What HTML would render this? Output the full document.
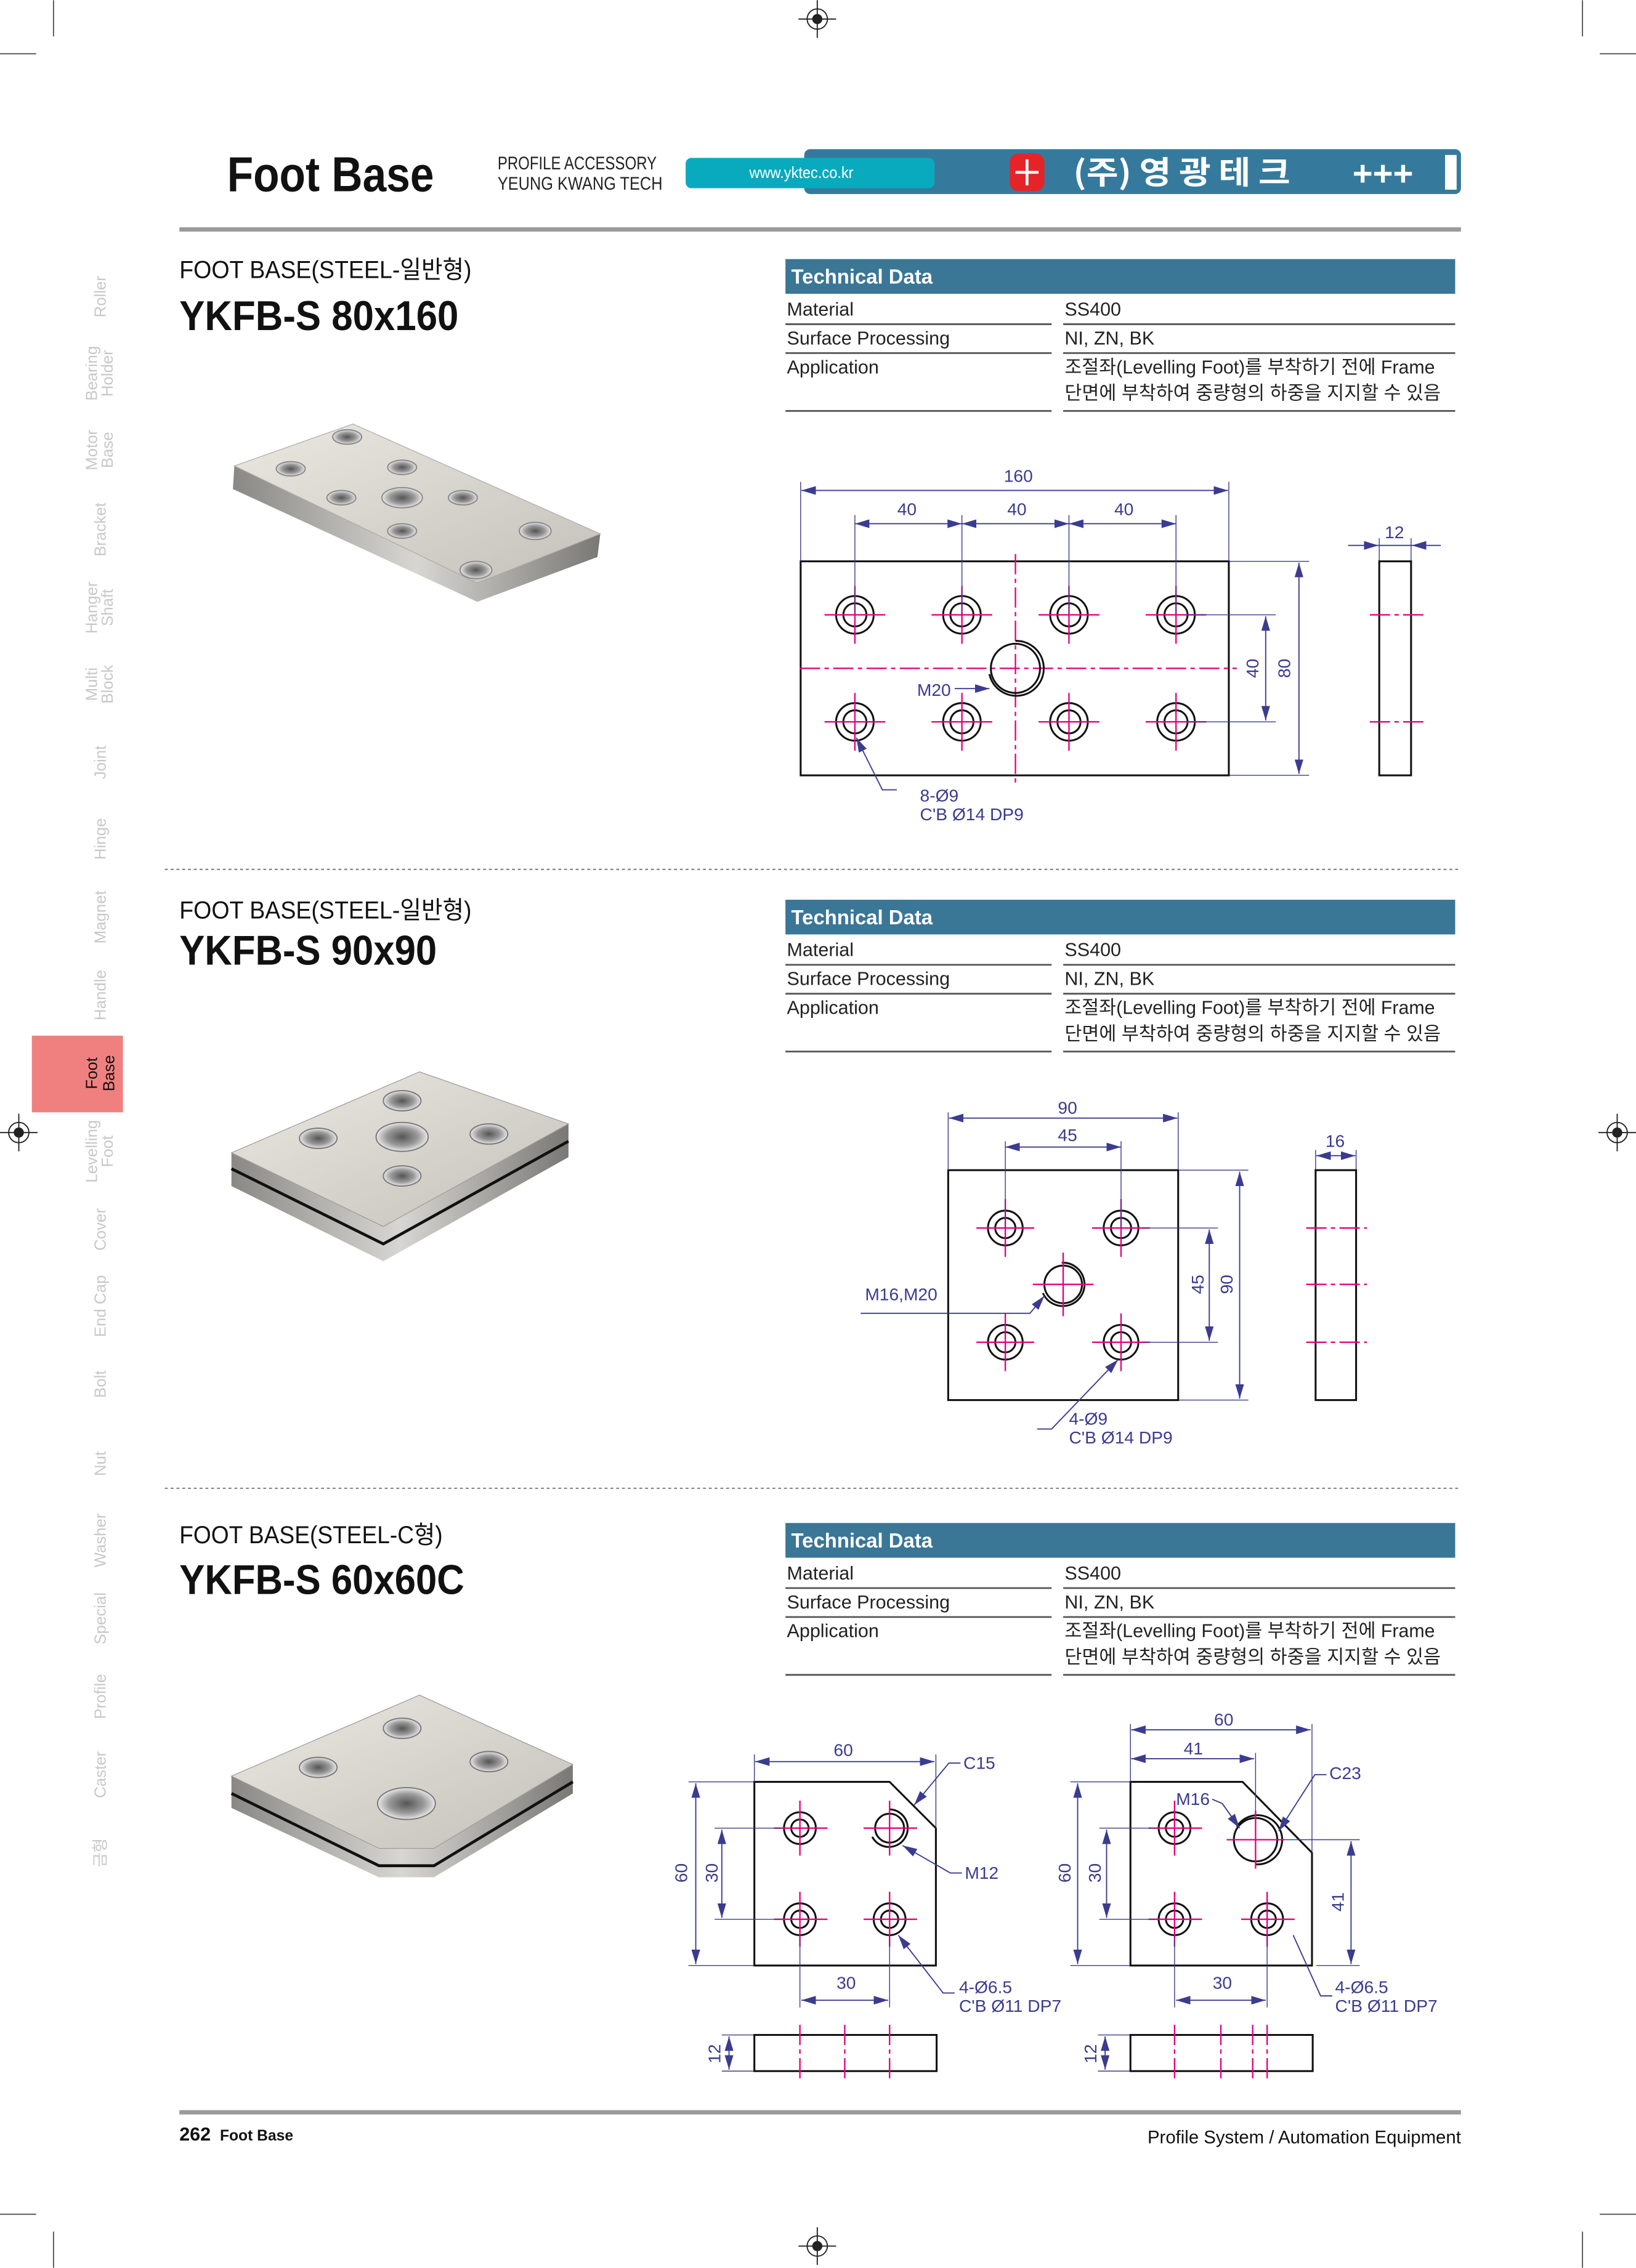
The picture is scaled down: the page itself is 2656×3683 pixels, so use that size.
<!DOCTYPE html>
<html><head><meta charset="utf-8"><style>
html,body{margin:0;padding:0;background:#fff;}
svg{display:block;}
.d{font-family:"Liberation Sans","DejaVu Sans",sans-serif;font-size:12px;fill:#3b3b8f;}
.t{font-family:"Liberation Sans","Noto Sans CJK KR",sans-serif;font-size:13px;fill:#222;}
.side{font-family:"Liberation Sans","Noto Sans CJK KR",sans-serif;font-size:11px;fill:#c8c8c8;}
.dim{stroke:#3b3b8f;stroke-width:0.8;fill:none;}
.ext{stroke:#3b3b8f;stroke-width:0.6;fill:none;}
.cl{stroke:#e6007e;stroke-width:1;fill:none;stroke-dasharray:14 3 3 3;}
.c{stroke:#e6007e;stroke-width:1;fill:none;}
.ob{stroke:#111;stroke-width:1.3;fill:none;}
</style></head><body>
<svg width="2656" height="3683" viewBox="0 0 1131 1568" xmlns="http://www.w3.org/2000/svg">
<defs>
<marker id="a" viewBox="0 0 10 6" refX="10" refY="3" markerWidth="10" markerHeight="6" markerUnits="userSpaceOnUse" orient="auto-start-reverse"><path d="M0,0L10,3L0,6z" fill="#3b3b8f"/></marker>
<linearGradient id="g1" x1="0" y1="0" x2="1" y2="1"><stop offset="0" stop-color="#ebe7e1"/><stop offset="1" stop-color="#c4c0ba"/></linearGradient>
<linearGradient id="g2" x1="0" y1="0" x2="1" y2="0"><stop offset="0" stop-color="#8a8884"/><stop offset="0.5" stop-color="#d8d6d2"/><stop offset="1" stop-color="#7a7874"/></linearGradient>
<radialGradient id="h"><stop offset="0" stop-color="#555"/><stop offset="0.6" stop-color="#999"/><stop offset="1" stop-color="#e8e8e8"/></radialGradient>
</defs>

<g stroke="#555" stroke-width="0.8">
<line x1="37" y1="0" x2="37" y2="25"/><line x1="0" y1="37" x2="25" y2="37"/>
<line x1="1094" y1="0" x2="1094" y2="25"/><line x1="1106" y1="37" x2="1131" y2="37"/>
<line x1="37" y1="1543" x2="37" y2="1568"/><line x1="0" y1="1531" x2="25" y2="1531"/>
<line x1="1094" y1="1543" x2="1094" y2="1568"/><line x1="1106" y1="1531" x2="1131" y2="1531"/>
</g>
<g stroke="#222" stroke-width="0.8" fill="none">
<circle cx="565" cy="13" r="7"/><line x1="552" y1="13" x2="578" y2="13"/><line x1="565" y1="0" x2="565" y2="26"/>
<circle cx="565" cy="1553" r="7"/><line x1="552" y1="1553" x2="578" y2="1553"/><line x1="565" y1="1540" x2="565" y2="1566"/>
<circle cx="13" cy="783" r="7"/><line x1="0" y1="783" x2="26" y2="783"/><line x1="13" y1="770" x2="13" y2="796"/>
<circle cx="1118" cy="783" r="7"/><line x1="1105" y1="783" x2="1131" y2="783"/><line x1="1118" y1="770" x2="1118" y2="796"/>
</g>
<g fill="#222"><circle cx="565" cy="13" r="3.5"/><circle cx="565" cy="1553" r="3.5"/><circle cx="13" cy="783" r="3.5"/><circle cx="1118" cy="783" r="3.5"/></g>

<text x="157" y="132" font-family="Liberation Sans,sans-serif" font-weight="bold" font-size="34" textLength="143" lengthAdjust="spacingAndGlyphs" fill="#111">Foot Base</text>
<text x="344" y="117" font-family="Liberation Sans,sans-serif" font-size="12.5" textLength="110" lengthAdjust="spacingAndGlyphs" fill="#222">PROFILE ACCESSORY</text>
<text x="344" y="131" font-family="Liberation Sans,sans-serif" font-size="12.5" textLength="114" lengthAdjust="spacingAndGlyphs" fill="#222">YEUNG KWANG TECH</text>
<rect x="556" y="103" width="454" height="31" rx="4" fill="#357a9c"/>
<rect x="474" y="109" width="172" height="21" rx="4" fill="#0aaabe"/>
<text x="554" y="123" text-anchor="middle" font-family="Liberation Sans,sans-serif" font-size="11" fill="#fff" textLength="72" lengthAdjust="spacingAndGlyphs">www.yktec.co.kr</text>
<rect x="698" y="106" width="24" height="26" rx="6" fill="#e52428"/>
<path d="M710,110 L710,128 M702,119 L718,119" stroke="#fff" stroke-width="2"/>
<text x="742" y="127" font-family="Noto Sans CJK KR,sans-serif" font-weight="bold" font-size="22" fill="#fff" textLength="150" lengthAdjust="spacingAndGlyphs">(주) 영 광 테 크</text>
<text x="935" y="128" font-family="Liberation Sans,sans-serif" font-weight="bold" font-size="24" fill="#fff">+++</text>
<rect x="999" y="107" width="8" height="24" fill="#fff"/>
<rect x="124" y="157" width="886" height="3" fill="#9a9a9a"/>

<rect x="22" y="716" width="63" height="53" fill="#f08080"/>
<g class="side">
<text transform="translate(73,205) rotate(-90)" text-anchor="middle">Roller</text>
<text transform="translate(67,258) rotate(-90)" text-anchor="middle">Bearing</text><text transform="translate(78,258) rotate(-90)" text-anchor="middle">Holder</text>
<text transform="translate(67,311) rotate(-90)" text-anchor="middle">Motor</text><text transform="translate(78,311) rotate(-90)" text-anchor="middle">Base</text>
<text transform="translate(73,366) rotate(-90)" text-anchor="middle">Bracket</text>
<text transform="translate(67,420) rotate(-90)" text-anchor="middle">Hanger</text><text transform="translate(78,420) rotate(-90)" text-anchor="middle">Shaft</text>
<text transform="translate(67,473) rotate(-90)" text-anchor="middle">Multi</text><text transform="translate(78,473) rotate(-90)" text-anchor="middle">Block</text>
<text transform="translate(73,527) rotate(-90)" text-anchor="middle">Joint</text>
<text transform="translate(73,580) rotate(-90)" text-anchor="middle">Hinge</text>
<text transform="translate(73,634) rotate(-90)" text-anchor="middle">Magnet</text>
<text transform="translate(73,688) rotate(-90)" text-anchor="middle">Handle</text>
<text transform="translate(67,796) rotate(-90)" text-anchor="middle">Levelling</text><text transform="translate(78,796) rotate(-90)" text-anchor="middle">Foot</text>
<text transform="translate(73,850) rotate(-90)" text-anchor="middle">Cover</text>
<text transform="translate(73,903) rotate(-90)" text-anchor="middle">End Cap</text>
<text transform="translate(73,957) rotate(-90)" text-anchor="middle">Bolt</text>
<text transform="translate(73,1012) rotate(-90)" text-anchor="middle">Nut</text>
<text transform="translate(73,1065) rotate(-90)" text-anchor="middle">Washer</text>
<text transform="translate(73,1119) rotate(-90)" text-anchor="middle">Special</text>
<text transform="translate(73,1173) rotate(-90)" text-anchor="middle">Profile</text>
<text transform="translate(73,1227) rotate(-90)" text-anchor="middle">Caster</text>
<text transform="translate(73,1281) rotate(-90)" text-anchor="middle">금형</text>
</g>
<text transform="translate(67,742) rotate(-90)" text-anchor="middle" font-family="Liberation Sans,sans-serif" font-size="11" fill="#111">Foot</text>
<text transform="translate(79,742) rotate(-90)" text-anchor="middle" font-family="Liberation Sans,sans-serif" font-size="11" fill="#111">Base</text>

<line x1="114" y1="601" x2="1010" y2="601" stroke="#777" stroke-width="0.8" stroke-dasharray="2 2"/>
<line x1="114" y1="1029" x2="1010" y2="1029" stroke="#777" stroke-width="0.8" stroke-dasharray="2 2"/>

<g font-family="Liberation Sans,Noto Sans CJK KR,sans-serif" fill="#111">
<text x="124" y="192" font-size="17" textLength="202" lengthAdjust="spacingAndGlyphs">FOOT BASE(STEEL-일반형)</text>
<text x="124" y="228" font-size="29" font-weight="bold" textLength="193" lengthAdjust="spacingAndGlyphs">YKFB-S 80x160</text>
<text x="124" y="635" font-size="17" textLength="202" lengthAdjust="spacingAndGlyphs">FOOT BASE(STEEL-일반형)</text>
<text x="124" y="667" font-size="29" font-weight="bold" textLength="178" lengthAdjust="spacingAndGlyphs">YKFB-S 90x90</text>
<text x="124" y="1067" font-size="17" textLength="182" lengthAdjust="spacingAndGlyphs">FOOT BASE(STEEL-C형)</text>
<text x="124" y="1102" font-size="29" font-weight="bold" textLength="197" lengthAdjust="spacingAndGlyphs">YKFB-S 60x60C</text>
</g>

<g id="tt">
<rect x="543" y="179" width="463" height="24" fill="#3a7696"/>
<text x="547" y="196" font-family="Liberation Sans,sans-serif" font-weight="bold" font-size="14" fill="#fff">Technical Data</text>
<g class="t">
<text x="544" y="218">Material</text><text x="736" y="218">SS400</text>
<text x="544" y="238">Surface Processing</text><text x="736" y="238">NI, ZN, BK</text>
<text x="544" y="258">Application</text>
<text x="736" y="258" textLength="256" lengthAdjust="spacingAndGlyphs">조절좌(Levelling Foot)를 부착하기 전에 Frame</text>
<text x="736" y="276" textLength="260" lengthAdjust="spacingAndGlyphs">단면에 부착하여 중량형의 하중을 지지할 수 있음</text>
</g>
<g stroke="#555" stroke-width="1.2">
<line x1="543" y1="224" x2="727" y2="224"/><line x1="735" y1="224" x2="1006" y2="224"/>
<line x1="543" y1="244" x2="727" y2="244"/><line x1="735" y1="244" x2="1006" y2="244"/>
<line x1="543" y1="284" x2="727" y2="284"/><line x1="735" y1="284" x2="1006" y2="284"/>
</g>
</g>
<use href="#tt" y="443"/>
<use href="#tt" y="874"/>

<polygon points="162,322 330,403 415,369 413,385 330,416 161,338" fill="url(#g2)"/>
<polygon points="162,322 244,293 415,369 330,403" fill="url(#g1)" stroke="#aaa" stroke-width="0.5"/>
<g fill="url(#h)" stroke="#888" stroke-width="0.8">
<ellipse cx="201" cy="324" rx="10" ry="5"/><ellipse cx="240" cy="302" rx="10" ry="5"/>
<ellipse cx="236" cy="344" rx="10" ry="5"/><ellipse cx="278" cy="323" rx="10" ry="5"/>
<ellipse cx="278" cy="344" rx="14" ry="7"/><ellipse cx="320" cy="344" rx="10" ry="5"/>
<ellipse cx="278" cy="367" rx="10" ry="5"/><ellipse cx="370" cy="367" rx="11" ry="6"/>
<ellipse cx="329" cy="394" rx="11" ry="6"/>
</g>
<polygon points="160,797 265,848 393,777 393,800 265,872 160,820" fill="url(#g2)"/>
<polyline points="160,808 265,860 393,789" stroke="#111" stroke-width="2" fill="none"/>
<polygon points="160,797 290,741 393,777 265,848" fill="url(#g1)" stroke="#999" stroke-width="0.5"/>
<g fill="url(#h)" stroke="#777" stroke-width="0.8">
<ellipse cx="220" cy="787" rx="13" ry="7"/><ellipse cx="278" cy="761" rx="13" ry="7"/>
<ellipse cx="278" cy="786" rx="18" ry="10"/><ellipse cx="338" cy="784" rx="13" ry="7"/>
<ellipse cx="278" cy="813" rx="13" ry="7"/>
</g>
<polygon points="160,1228 262,1278 300,1278 396,1220 396,1240 300,1298 262,1298 160,1250" fill="url(#g2)"/>
<polyline points="160,1240 262,1290 300,1290 396,1232" stroke="#111" stroke-width="2" fill="none"/>
<polygon points="160,1228 290,1172 396,1220 300,1278 262,1278" fill="url(#g1)" stroke="#999" stroke-width="0.5"/>
<g fill="url(#h)" stroke="#777" stroke-width="0.8">
<ellipse cx="220" cy="1222" rx="13" ry="7"/><ellipse cx="278" cy="1195" rx="13" ry="7"/>
<ellipse cx="338" cy="1218" rx="13" ry="7"/><ellipse cx="281" cy="1247" rx="20" ry="11"/>
</g>

<!-- DRAWING 1 -->
<rect x="553.5" y="388" width="296" height="148" class="ob"/>
<line x1="553" y1="462" x2="855" y2="462" class="cl"/>
<line x1="702" y1="383" x2="702" y2="541" class="cl"/>
<g id="h1">
<circle cx="591" cy="425" r="13" class="ob"/><circle cx="591" cy="425" r="8" class="ob"/>
<line x1="570" y1="425" x2="612" y2="425" class="c"/><line x1="591" y1="405" x2="591" y2="445" class="c"/>
</g>
<use href="#h1" x="74"/><use href="#h1" x="148"/><use href="#h1" x="222"/>
<use href="#h1" y="74"/><use href="#h1" x="74" y="74"/><use href="#h1" x="148" y="74"/><use href="#h1" x="222" y="74"/>
<circle cx="702" cy="462" r="17" class="ob"/>
<path d="M702,443 A19,19 0 1 1 684,466" class="ob" stroke-width="0.9"/>
<g class="ext">
<line x1="553.5" y1="333" x2="553.5" y2="388"/><line x1="849.5" y1="333" x2="849.5" y2="388"/>
<line x1="591" y1="356" x2="591" y2="425"/><line x1="665" y1="356" x2="665" y2="425"/>
<line x1="739" y1="356" x2="739" y2="425"/><line x1="813" y1="356" x2="813" y2="425"/>
<line x1="850" y1="388" x2="905" y2="388"/><line x1="850" y1="536" x2="905" y2="536"/>
<line x1="820" y1="425" x2="882" y2="425"/><line x1="820" y1="499" x2="882" y2="499"/>
<line x1="953.5" y1="372" x2="953.5" y2="388"/><line x1="975.5" y1="372" x2="975.5" y2="388"/>
</g>
<g class="dim">
<line x1="554" y1="339" x2="849" y2="339" marker-start="url(#a)" marker-end="url(#a)"/>
<line x1="591" y1="362" x2="665" y2="362" marker-start="url(#a)" marker-end="url(#a)"/>
<line x1="665" y1="362" x2="739" y2="362" marker-start="url(#a)" marker-end="url(#a)"/>
<line x1="739" y1="362" x2="813" y2="362" marker-start="url(#a)" marker-end="url(#a)"/>
<line x1="898" y1="389" x2="898" y2="535" marker-start="url(#a)" marker-end="url(#a)"/>
<line x1="875" y1="426" x2="875" y2="498" marker-start="url(#a)" marker-end="url(#a)"/>
<line x1="932" y1="377" x2="953" y2="377" marker-end="url(#a)"/>
<line x1="996" y1="377" x2="976" y2="377" marker-end="url(#a)"/>
<line x1="953" y1="377" x2="976" y2="377"/>
<line x1="660" y1="476" x2="684" y2="476" marker-end="url(#a)"/>
<polyline points="620,546 610,546 592,510" marker-end="url(#a)"/>
</g>
<rect x="953.5" y="388" width="22" height="148" class="ob"/>
<line x1="947" y1="425" x2="984" y2="425" class="cl" stroke-dasharray="12 3 3 3"/>
<line x1="947" y1="499" x2="984" y2="499" class="cl" stroke-dasharray="12 3 3 3"/>
<g class="d" text-anchor="middle">
<text x="704" y="333">160</text><text x="627" y="356">40</text><text x="703" y="356">40</text><text x="777" y="356">40</text>
<text x="964" y="372">12</text>
<text transform="translate(870,462) rotate(-90)">40</text>
<text transform="translate(892,462) rotate(-90)">80</text>
</g>
<g class="d"><text x="634" y="481">M20</text><text x="636" y="554">8-Ø9</text><text x="636" y="567">C'B Ø14 DP9</text></g>

<!-- DRAWING 2 -->
<rect x="655.5" y="809" width="159" height="159" class="ob"/>
<g id="h2">
<circle cx="695" cy="849" r="12" class="ob"/><circle cx="695" cy="849" r="7" class="ob"/>
<line x1="675" y1="849" x2="715" y2="849" class="c"/><line x1="695" y1="829" x2="695" y2="869" class="c"/>
</g>
<use href="#h2" x="80"/><use href="#h2" y="79"/><use href="#h2" x="80" y="79"/>
<circle cx="735" cy="888" r="13" class="ob"/>
<path d="M734,873 A15,15 0 1 1 721,894" class="ob" stroke-width="0.9"/>
<line x1="714" y1="888" x2="756" y2="888" class="c"/><line x1="735" y1="866" x2="735" y2="910" class="c"/>
<g class="ext">
<line x1="655.5" y1="769" x2="655.5" y2="809"/><line x1="814.5" y1="769" x2="814.5" y2="809"/>
<line x1="695" y1="789" x2="695" y2="849"/><line x1="775" y1="789" x2="775" y2="849"/>
<line x1="815" y1="809" x2="863" y2="809"/><line x1="815" y1="968" x2="863" y2="968"/>
<line x1="790" y1="849" x2="842" y2="849"/><line x1="790" y1="928" x2="842" y2="928"/>
<line x1="909.5" y1="795" x2="909.5" y2="809"/><line x1="937.5" y1="795" x2="937.5" y2="809"/>
</g>
<g class="dim">
<line x1="656" y1="773" x2="814" y2="773" marker-start="url(#a)" marker-end="url(#a)"/>
<line x1="695" y1="793" x2="775" y2="793" marker-start="url(#a)" marker-end="url(#a)"/>
<line x1="857" y1="810" x2="857" y2="967" marker-start="url(#a)" marker-end="url(#a)"/>
<line x1="836" y1="850" x2="836" y2="927" marker-start="url(#a)" marker-end="url(#a)"/>
<line x1="910" y1="799" x2="937" y2="799" marker-start="url(#a)" marker-end="url(#a)"/>
<polyline points="595,908 712,908 722,896" marker-end="url(#a)"/>
<polyline points="717,988 727,988 773,940" marker-end="url(#a)"/>
</g>
<rect x="909.5" y="809" width="28" height="159" class="ob"/>
<line x1="903" y1="849" x2="945" y2="849" class="cl" stroke-dasharray="12 3 3 3"/>
<line x1="903" y1="888" x2="945" y2="888" class="cl" stroke-dasharray="12 3 3 3"/>
<line x1="903" y1="928" x2="945" y2="928" class="cl" stroke-dasharray="12 3 3 3"/>
<g class="d" text-anchor="middle">
<text x="738" y="770">90</text><text x="738" y="789">45</text><text x="923" y="793">16</text>
<text transform="translate(832,888) rotate(-90)">45</text>
<text transform="translate(852,888) rotate(-90)">90</text>
</g>
<g class="d"><text x="598" y="899">M16,M20</text><text x="739" y="985">4-Ø9</text><text x="739" y="998">C'B Ø14 DP9</text></g>

<!-- DRAWING 3 left -->
<path d="M521.5,1232 L615,1232 L647,1264 L647,1359 L521.5,1359 Z" class="ob"/>
<g id="h3">
<circle cx="553" cy="1264" r="11" class="ob"/><circle cx="553" cy="1264" r="6" class="ob"/>
<line x1="535" y1="1264" x2="572" y2="1264" class="c"/><line x1="553" y1="1245" x2="553" y2="1283" class="c"/>
</g>
<use href="#h3" y="63"/><use href="#h3" x="62" y="63"/>
<circle cx="615" cy="1264" r="10" class="ob"/>
<path d="M615,1251 A13,13 0 1 1 603,1270" class="ob" stroke-width="0.9"/>
<line x1="597" y1="1264" x2="634" y2="1264" class="c"/><line x1="615" y1="1245" x2="615" y2="1283" class="c"/>
<g class="ext">
<line x1="521.5" y1="1213" x2="521.5" y2="1232"/><line x1="647" y1="1213" x2="647" y2="1264"/>
<line x1="476" y1="1232" x2="521" y2="1232"/><line x1="476" y1="1359" x2="521" y2="1359"/>
<line x1="494" y1="1264" x2="540" y2="1264"/><line x1="494" y1="1327" x2="540" y2="1327"/>
<line x1="553" y1="1340" x2="553" y2="1388"/><line x1="615" y1="1340" x2="615" y2="1388"/>
<line x1="499" y1="1407" x2="521" y2="1407"/><line x1="499" y1="1432" x2="521" y2="1432"/>
</g>
<g class="dim">
<line x1="522" y1="1218" x2="646" y2="1218" marker-start="url(#a)" marker-end="url(#a)"/>
<line x1="481" y1="1233" x2="481" y2="1358" marker-start="url(#a)" marker-end="url(#a)"/>
<line x1="499" y1="1265" x2="499" y2="1326" marker-start="url(#a)" marker-end="url(#a)"/>
<line x1="554" y1="1383" x2="614" y2="1383" marker-start="url(#a)" marker-end="url(#a)"/>
<line x1="504" y1="1408" x2="504" y2="1431" marker-start="url(#a)" marker-end="url(#a)"/>
<polyline points="664,1219 656,1219 632,1248" marker-end="url(#a)"/>
<polyline points="665,1295 657,1295 624,1276" marker-end="url(#a)"/>
<polyline points="660,1378 652,1378 621,1338" marker-end="url(#a)"/>
</g>
<rect x="521.5" y="1407" width="126" height="25" class="ob"/>
<g class="cl" stroke-dasharray="12 3 3 3">
<line x1="553" y1="1400" x2="553" y2="1440"/><line x1="584" y1="1400" x2="584" y2="1440"/><line x1="615" y1="1400" x2="615" y2="1440"/>
</g>
<g class="d" text-anchor="middle">
<text x="583" y="1214">60</text><text x="585" y="1375">30</text>
<text transform="translate(475,1295) rotate(-90)">60</text>
<text transform="translate(496,1295) rotate(-90)">30</text>
<text transform="translate(498,1420) rotate(-90)">12</text>
</g>
<g class="d"><text x="666" y="1223">C15</text><text x="667" y="1299">M12</text><text x="663" y="1378">4-Ø6.5</text><text x="663" y="1391">C'B Ø11 DP7</text></g>

<!-- DRAWING 3 right -->
<path d="M781.5,1232 L859,1232 L907,1281 L907,1359 L781.5,1359 Z" class="ob"/>
<g id="h4">
<circle cx="812" cy="1264" r="11" class="ob"/><circle cx="812" cy="1264" r="6" class="ob"/>
<line x1="794" y1="1264" x2="831" y2="1264" class="c"/><line x1="812" y1="1245" x2="812" y2="1283" class="c"/>
</g>
<use href="#h4" y="63"/><use href="#h4" x="64" y="63"/>
<circle cx="868" cy="1272" r="15" class="ob"/>
<path d="M855,1263 A17,17 0 1 1 868,1289" class="ob" stroke-width="0.9"/>
<line x1="848" y1="1272" x2="888" y2="1272" class="c"/><line x1="868" y1="1252" x2="868" y2="1292" class="c"/>
<g class="ext">
<line x1="781.5" y1="1192" x2="781.5" y2="1232"/><line x1="907" y1="1192" x2="907" y2="1281"/>
<line x1="868" y1="1212" x2="868" y2="1252"/>
<line x1="740" y1="1232" x2="781" y2="1232"/><line x1="740" y1="1359" x2="781" y2="1359"/>
<line x1="760" y1="1264" x2="800" y2="1264"/><line x1="760" y1="1327" x2="800" y2="1327"/>
<line x1="888" y1="1272" x2="940" y2="1272"/><line x1="910" y1="1359" x2="940" y2="1359"/>
<line x1="812" y1="1340" x2="812" y2="1388"/><line x1="876" y1="1340" x2="876" y2="1388"/>
<line x1="759" y1="1407" x2="781" y2="1407"/><line x1="759" y1="1432" x2="781" y2="1432"/>
</g>
<g class="dim">
<line x1="782" y1="1196" x2="906" y2="1196" marker-start="url(#a)" marker-end="url(#a)"/>
<line x1="782" y1="1216" x2="867" y2="1216" marker-start="url(#a)" marker-end="url(#a)"/>
<line x1="745" y1="1233" x2="745" y2="1358" marker-start="url(#a)" marker-end="url(#a)"/>
<line x1="765" y1="1265" x2="765" y2="1326" marker-start="url(#a)" marker-end="url(#a)"/>
<line x1="934" y1="1273" x2="934" y2="1358" marker-start="url(#a)" marker-end="url(#a)"/>
<line x1="813" y1="1383" x2="875" y2="1383" marker-start="url(#a)" marker-end="url(#a)"/>
<line x1="764" y1="1408" x2="764" y2="1431" marker-start="url(#a)" marker-end="url(#a)"/>
<polyline points="917,1227 909,1227 884,1266" marker-end="url(#a)"/>
<polyline points="838,1244 845,1247 857,1264" marker-end="url(#a)"/>
<polyline points="921,1380 913,1380 894,1338"/>
</g>
<rect x="781.5" y="1407" width="126" height="25" class="ob"/>
<g class="cl" stroke-dasharray="12 3 3 3">
<line x1="812" y1="1400" x2="812" y2="1440"/><line x1="844" y1="1400" x2="844" y2="1440"/><line x1="866" y1="1400" x2="866" y2="1440"/><line x1="876" y1="1400" x2="876" y2="1440"/>
</g>
<g class="d" text-anchor="middle">
<text x="846" y="1193">60</text><text x="825" y="1213">41</text><text x="845" y="1375">30</text>
<text transform="translate(740,1295) rotate(-90)">60</text>
<text transform="translate(761,1295) rotate(-90)">30</text>
<text transform="translate(929,1315) rotate(-90)">41</text>
<text transform="translate(758,1420) rotate(-90)">12</text>
</g>
<g class="d"><text x="919" y="1230">C23</text><text x="813" y="1248">M16</text><text x="923" y="1378">4-Ø6.5</text><text x="923" y="1391">C'B Ø11 DP7</text></g>

<rect x="124" y="1459" width="886" height="3" fill="#9a9a9a"/>
<text x="124" y="1480" font-family="Liberation Sans,sans-serif" font-weight="bold" font-size="13" fill="#111">262</text>
<text x="152" y="1480" font-family="Liberation Sans,sans-serif" font-weight="bold" font-size="10.5" fill="#111">Foot Base</text>
<text x="1010" y="1482" text-anchor="end" font-family="Liberation Sans,sans-serif" font-size="12.5" fill="#111">Profile System / Automation Equipment</text>
</svg>
</body></html>
